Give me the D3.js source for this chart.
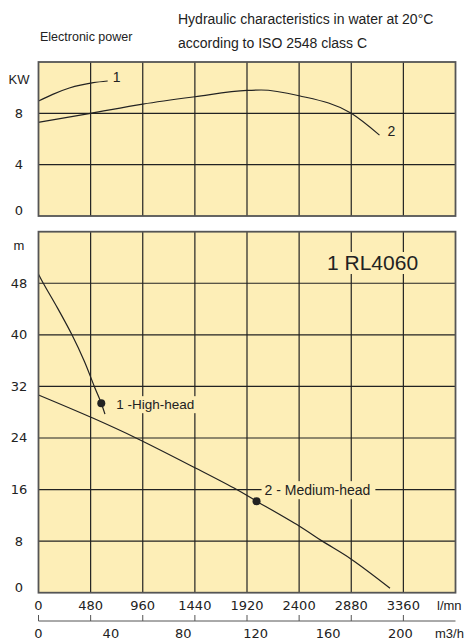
<!DOCTYPE html>
<html>
<head>
<meta charset="utf-8">
<script src="https://cdn.jsdelivr.net/npm/d3@7"></script>
<style>
  body { margin: 0; background: #fff; }
  svg text { font-family: "Liberation Sans", Arial, sans-serif; fill: #222; }
  svg text.num { font-family: "DejaVu Sans", sans-serif; }
</style>
</head>
<body>
<div id="chart"></div>
<script>
// flow ticks (l/mn) and secondary scale (m3/h)
const flowTicks = [0, 480, 960, 1440, 1920, 2400, 2880, 3360];
const m3hTicks = [0, 40, 80, 120, 160, 200];
const powerTicks = [0, 4, 8];
const headTicks = [0, 8, 16, 24, 32, 40, 48];

// electronic power curves [l/mn, kW]
const power1 = [[0, 8.96], [131, 9.48], [284, 9.97], [505, 10.39], [637, 10.52]];
const power2 = [[0, 7.3], [479, 8.0], [960, 8.72], [1440, 9.29], [1920, 9.79], [2050, 9.82], [2400, 9.37], [2880, 8.0], [3140, 6.3]];

// head curves [l/mn, m]
const head1 = [[0, 49.4], [44, 48], [177, 44.1], [308, 40], [422, 35.9], [514, 32], [578, 29.4], [612, 27.7]];
const head2 = [[0, 30.67], [505, 27.05], [898, 24], [1450, 19.3], [1825, 16], [2008, 14.2], [2400, 10.35], [2613, 8], [2880, 5.2], [3237, 0.7]];

// duty points
const dutyPoints = [
  { label: "1 -High-head", q: 578, h: 29.4 },
  { label: "2 - Medium-head", q: 2008, h: 14.2 }
];

const width = 470, height = 643;
const fill = "#fdeeb7";
const ink = "#222";

const svg = d3.select("#chart").append("svg")
  .attr("width", width)
  .attr("height", height);

const x = d3.scaleLinear().domain([0, 3840]).range([38.5, 455.5]);
const yP = d3.scaleLinear().domain([0, 12]).range([216, 62]);
const yH = d3.scaleLinear().domain([0, 56]).range([592.7, 231.7]);

/* -----------------------------
   titles
-------------------------------- */
svg.append("text").attr("x", 40).attr("y", 41).style("font-size", "12.5px").text("Electronic power");
svg.append("text").attr("x", 178).attr("y", 24).style("font-size", "14px")
  .text("Hydraulic characteristics in water at 20°C");
svg.append("text").attr("x", 178).attr("y", 48).style("font-size", "14px")
  .text("according to ISO 2548 class C");

function panel(y, ticks) {
  const g = svg.append("g");
  g.append("rect")
    .attr("x", x.range()[0]).attr("y", y.range()[1])
    .attr("width", x.range()[1] - x.range()[0])
    .attr("height", y.range()[0] - y.range()[1])
    .attr("fill", fill);
  g.selectAll(".vgrid").data(flowTicks.slice(1)).enter().append("line")
    .attr("x1", d => x(d)).attr("x2", d => x(d))
    .attr("y1", y.range()[1]).attr("y2", y.range()[0])
    .attr("stroke", ink).attr("stroke-width", 1.2);
  g.selectAll(".hgrid").data(ticks.slice(1)).enter().append("line")
    .attr("x1", x.range()[0]).attr("x2", x.range()[1])
    .attr("y1", d => y(d)).attr("y2", d => y(d))
    .attr("stroke", ink).attr("stroke-width", 1.2);
  g.selectAll(".ylab").data(ticks).enter().append("text")
    .attr("class", "num")
    .attr("x", 19).attr("y", d => y(d) + (d === 0 ? -1 : 4.5))
    .attr("text-anchor", "middle")
    .style("font-size", "13px")
    .text(d => d);
  return g;
}

const powerPanel = panel(yP, powerTicks);
const headPanel = panel(yH, headTicks);

svg.append("text").attr("x", 19).attr("y", 84).attr("text-anchor", "middle")
  .style("font-size", "13px").text("KW");
svg.append("text").attr("x", 19).attr("y", 250).attr("text-anchor", "middle")
  .style("font-size", "13px").text("m");

const lineP = d3.line().x(d => x(d[0])).y(d => yP(d[1])).curve(d3.curveMonotoneX);

powerPanel.append("path").datum(power1).attr("d", lineP)
  .attr("fill", "none").attr("stroke", ink).attr("stroke-width", 1.2);
powerPanel.append("path").datum(power2).attr("d", lineP)
  .attr("fill", "none").attr("stroke", ink).attr("stroke-width", 1.2);
const p1end = power1[power1.length - 1], p2end = power2[power2.length - 1];
powerPanel.append("text").attr("x", x(p1end[0]) + 5).attr("y", yP(p1end[1]) + 1)
  .style("font-size", "14px").text("1");
powerPanel.append("text").attr("x", x(p2end[0]) + 8).attr("y", yP(p2end[1]) + 1)
  .style("font-size", "14px").text("2");

// big model label with a patch that hides the grid behind it
headPanel.append("rect").attr("x", 324).attr("y", 252).attr("width", 96).attr("height", 22).attr("fill", fill);
headPanel.append("text").attr("x", 327).attr("y", 270).style("font-size", "21px").text("1 RL4060");

const lineH = d3.line().x(d => x(d[0])).y(d => yH(d[1])).curve(d3.curveCatmullRom.alpha(0.5));
headPanel.append("path").datum(head1).attr("d", lineH)
  .attr("fill", "none").attr("stroke", ink).attr("stroke-width", 1.2);
headPanel.append("path").datum(head2).attr("d", lineH)
  .attr("fill", "none").attr("stroke", ink).attr("stroke-width", 1.2);

dutyPoints.forEach((p, i) => {
  const px = x(p.q), py = yH(p.h);
  const lx = i === 0 ? px + 15 : px + 8;
  const ly = i === 0 ? py + 1 : py - 11;
  const t = headPanel.append("text").attr("x", lx).attr("y", ly + 5)
    .style("font-size", i === 0 ? "13.5px" : "14px").text(p.label);
  const bb = t.node().getBBox();
  headPanel.insert("rect", () => t.node())
    .attr("x", bb.x - 3).attr("y", bb.y - 1)
    .attr("width", bb.width + 8).attr("height", bb.height + 2)
    .attr("fill", fill);
  headPanel.append("circle").attr("cx", px).attr("cy", py).attr("r", 4).attr("fill", ink);
});

// frames on top
[yP, yH].forEach(y => {
  svg.append("rect")
    .attr("x", x.range()[0]).attr("y", y.range()[1])
    .attr("width", x.range()[1] - x.range()[0])
    .attr("height", y.range()[0] - y.range()[1])
    .attr("fill", "none").attr("stroke", "#555").attr("stroke-width", 1.8);
});

/* -----------------------------
   flow axes
-------------------------------- */
svg.selectAll(".xl").data(flowTicks).enter().append("text")
  .attr("class", "num")
  .attr("x", d => x(d)).attr("y", 610)
  .attr("text-anchor", "middle").style("font-size", "13px")
  .text(d => d);
svg.append("text").attr("x", 437).attr("y", 610).style("font-size", "13px").text("l/mn");

const axisY = 621;
svg.append("line").attr("x1", x.range()[0]).attr("x2", x.range()[1])
  .attr("y1", axisY).attr("y2", axisY).attr("stroke", "#555").attr("stroke-width", 1);
svg.selectAll(".mt").data(flowTicks).enter().append("line")
  .attr("x1", d => x(d)).attr("x2", d => x(d))
  .attr("y1", axisY - 6).attr("y2", axisY)
  .attr("stroke", "#555").attr("stroke-width", 1);
svg.selectAll(".ml").data(m3hTicks).enter().append("text")
  .attr("class", "num")
  .attr("x", d => x(d * 1000 / 60)).attr("y", 638)
  .attr("text-anchor", "middle").style("font-size", "13px")
  .text(d => d);
svg.append("text").attr("x", 435).attr("y", 638).style("font-size", "13px").text("m3/h");
</script>
</body>
</html>
